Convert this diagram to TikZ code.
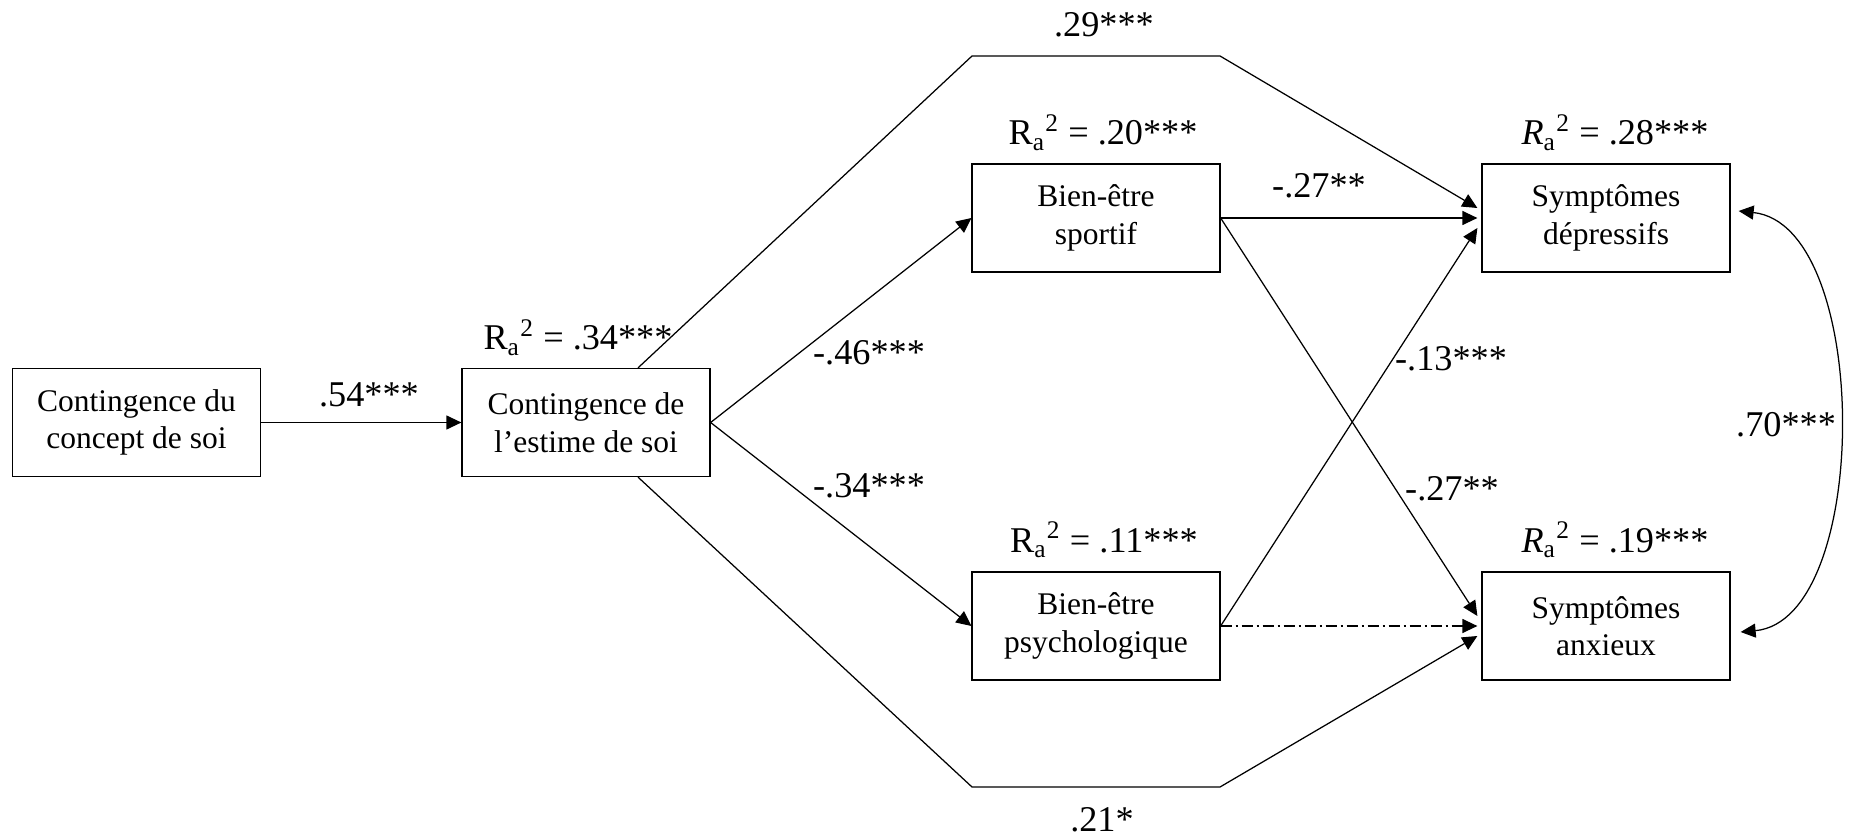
\documentclass[tikz,border=0pt]{standalone}
\usepackage{fontspec}
\setmainfont{Liberation Serif}
\usetikzlibrary{arrows.meta,calc}
\newcommand{\Rsq}{R\textsubscript{a}\textsuperscript{2}}
\newcommand{\Rsqi}{\textit{R}\textsubscript{a}\textsuperscript{2}}
\begin{document}
\begin{tikzpicture}[x=0.4pt,y=-0.4pt,
  box/.style={draw, line width=0.5pt, minimum width=99.2pt, minimum height=43.2pt,
    inner sep=0pt, align=center, font=\fontsize{12.6}{15}\selectfont},
  lab/.style={font=\fontsize{14.5}{16}\selectfont, inner sep=0pt, anchor=base},
  tip/.style={Triangle[length=6pt,width=5.6pt]},
  conn/.style={line width=0.5pt, -{Triangle[length=6pt,width=5.6pt]}},
  dashdot/.style={dash pattern=on 4.4pt off 1.6pt on 0.8pt off 1.6pt}]
\useasboundingbox (0,0) rectangle (1850,838);

% boxes
\node[box] (A) at (136.5,422.5) {Contingence du\\concept de soi};
\node[box] (B) at (586,422.5) {Contingence de\\l’estime de soi};
\node[box] (C) at (1096,218) {Bien-être\\sportif};
\node[box] (D) at (1096,626) {Bien-être\\psychologique};
\node[box] (E) at (1606,218) {Symptômes\\dépressifs};
\node[box] (F) at (1606,626) {Symptômes\\anxieux};

% corners of the outer paths
\coordinate (t1) at (972,56);
\coordinate (t2) at (1220,56);
\coordinate (b1) at (972,787);
\coordinate (b2) at (1220,787);

% connectors
\draw[conn] (A.east) -- (B.west);
\draw[conn] (B.east) -- (C.west);
\draw[conn] (B.east) -- (D.west);
\draw[conn] ($(B.north)+(52,0)$) -- (t1) -- (t2) -- ($(E.west)+(-4,-10)$);
\draw[conn] ($(B.south)+(52,0)$) -- (b1) -- (b2) -- ($(F.west)+(-4,10)$);
\draw[conn] (C.east) -- ($(E.west)+(-4,0)$);
\draw[conn] (C.east) -- ($(F.west)+(-4,-10)$);
\draw[conn] (D.east) -- ($(E.west)+(-4,10)$);
\draw[conn, dashdot] (D.east) -- ($(F.west)+(-4,0)$);
\draw[line width=0.5pt, {Triangle[length=6pt,width=5.6pt]}-{Triangle[length=6pt,width=5.6pt]}]
  ($(E.east)+(8,-7)$) .. controls (1872,225) and (1872,620) .. ($(F.east)+(10,6)$);

% labels
\node[lab] (l54) at (369,407) {.54***};
\node[lab] (l29) at (1104,37) {.29***};
\node[lab] (l21) at (1102,831) {.21*};
\node[lab] (l46) at (869,365) {-.46***};
\node[lab] (l34) at (869,497) {-.34***};
\node[lab] (l27a) at (1319,198) {-.27**};
\node[lab] (l13) at (1451,370) {-.13***};
\node[lab] (l27b) at (1452,500) {-.27**};
\node[lab] (l70) at (1786,436) {.70***};

\node[lab] (rB) at (578,350) {\Rsq{} = .34***};
\node[lab] (rC) at (1103,145) {\Rsq{} = .20***};
\node[lab] (rD) at (1104,552) {\Rsq{} = .11***};
\node[lab] (rE) at (1615,145) {\Rsqi{} = .28***};
\node[lab] (rF) at (1615,552) {\Rsqi{} = .19***};
\end{tikzpicture}
\end{document}
